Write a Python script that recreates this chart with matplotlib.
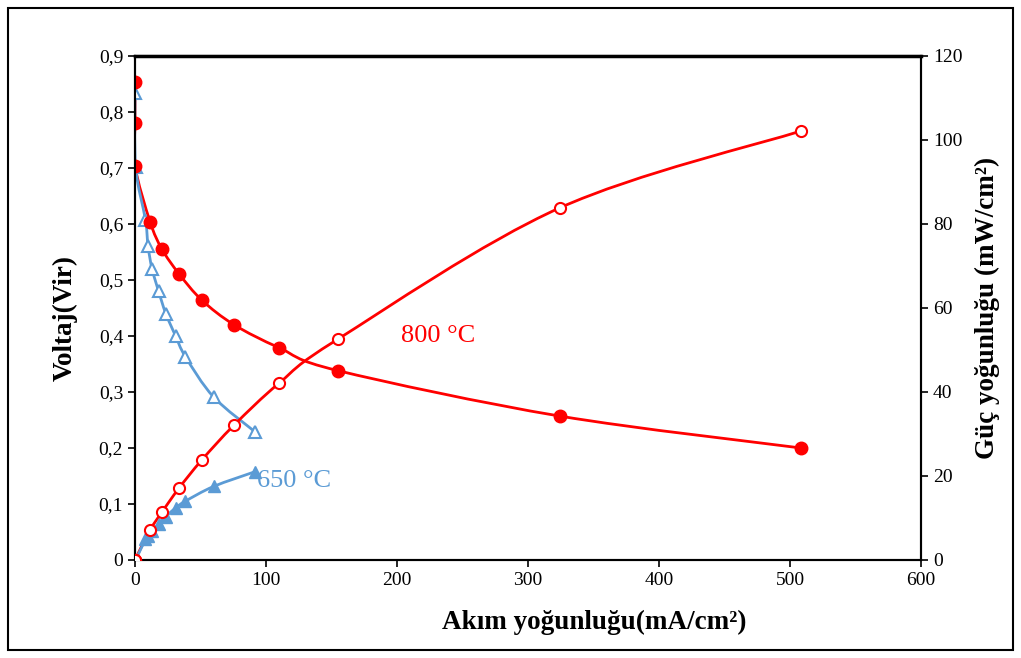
import matplotlib
matplotlib.use("Agg")
import matplotlib.pyplot as plt
from matplotlib.ticker import FuncFormatter
from matplotlib.patches import Rectangle, PathPatch
from matplotlib.path import Path

plt.rcParams['font.family'] = ['Liberation Serif', 'DejaVu Serif']

# 800 °C data
i_800 = [0, 0, 0, 11.5, 20.6, 33.6, 51, 75.6, 110, 155, 324, 508]
v_800 = [0.854, 0.780, 0.704, 0.604, 0.555, 0.511, 0.464, 0.420, 0.379, 0.338, 0.257, 0.200]
p_800 = [0, 0, 0, 7.1, 11.4, 17.1, 23.8, 32.1, 42.1, 52.6, 83.8, 102.1]

# 650 °C data
i_650 = [0, 0.5, 8, 10, 13, 18, 23.5, 31, 38.5, 60, 91.5]
v_650 = [0.834, 0.702, 0.607, 0.560, 0.520, 0.480, 0.440, 0.400, 0.363, 0.291, 0.229]
p_650 = [0, 0, 4.9, 5.6, 6.8, 8.6, 10.3, 12.4, 14.0, 17.5, 21.0]

red = '#FF0000'
blue = '#5B9BD5'


def smooth_line(a, xs, ys, color):
    # Excel-like smoothed line: cubic Bezier segments through the data points
    pts = list(zip(xs, ys))
    verts = [pts[0]]
    codes = [Path.MOVETO]
    n = len(pts)
    for k in range(n - 1):
        p0 = pts[k - 1] if k > 0 else pts[k]
        p1 = pts[k]
        p2 = pts[k + 1]
        p3 = pts[k + 2] if k + 2 < n else pts[k + 1]
        c1 = (p1[0] + (p2[0] - p0[0]) / 6, p1[1] + (p2[1] - p0[1]) / 6)
        c2 = (p2[0] - (p3[0] - p1[0]) / 6, p2[1] - (p3[1] - p1[1]) / 6)
        verts += [c1, c2, p2]
        codes += [Path.CURVE4] * 3
    a.add_patch(PathPatch(Path(verts, codes), fill=False, edgecolor=color, lw=2, zorder=2))


fig = plt.figure(figsize=(10.21, 6.58), dpi=100)
ax = fig.add_axes([0.1322, 0.149, 0.770, 0.766])
ax2 = ax.twinx()

# voltage curves
smooth_line(ax, i_800, v_800, red)
smooth_line(ax, i_650, v_650, blue)
ax.plot(i_800, v_800, ls='none', marker='o', ms=9, mfc=red, mec=red, zorder=4)
ax.plot(i_650, v_650, ls='none', marker='^', ms=8, mfc='white', mec=blue, mew=1.5, zorder=3)

# power curves
smooth_line(ax2, i_800, p_800, red)
smooth_line(ax2, i_650, p_650, blue)
ax2.plot(i_800, p_800, ls='none', marker='o', ms=8, mfc='white', mec=red, mew=1.5, zorder=4)
ax2.plot(i_650, p_650, ls='none', marker='^', ms=8, mfc=blue, mec=blue, zorder=3)

ax.set_xlim(0, 600)
ax.set_ylim(0, 0.9)
ax2.set_ylim(0, 120)
ax.set_xticks(range(0, 601, 100))
ax.set_yticks([i / 10 for i in range(10)])
ax2.set_yticks(range(0, 121, 20))
ax.yaxis.set_major_formatter(FuncFormatter(lambda v, p: '0' if v == 0 else f'{v:.1f}'.replace('.', ',')))

for a in (ax, ax2):
    a.tick_params(labelsize=14, direction='out', length=5, width=1.2, colors='black')
    for s in a.spines.values():
        s.set_linewidth(1.5)
ax.spines['top'].set_linewidth(2.5)

ax.set_xlabel('Akım yoğunluğu(mA/cm²)', fontsize=19.5, fontweight='bold')
ax.xaxis.set_label_coords(0.584, -0.099)
ax.set_ylabel('Voltaj(Vir)', fontsize=19.5, fontweight='bold')
ax.yaxis.set_label_coords(-0.0725, 0.48)
ax2.set_ylabel('Güç yoğunluğu (mW/cm²)', fontsize=19.5, fontweight='bold', labelpad=9)

ax.text(203, 0.40, '800 °C', color=red, fontsize=19, va='center')
ax.text(93, 0.141, '650 °C', color=blue, fontsize=19, va='center')

fig.patches.append(Rectangle((0.008, 0.012), 0.984, 0.976, transform=fig.transFigure,
                             fill=False, edgecolor='black', lw=1.5))

fig.savefig('out.png', dpi=100)
